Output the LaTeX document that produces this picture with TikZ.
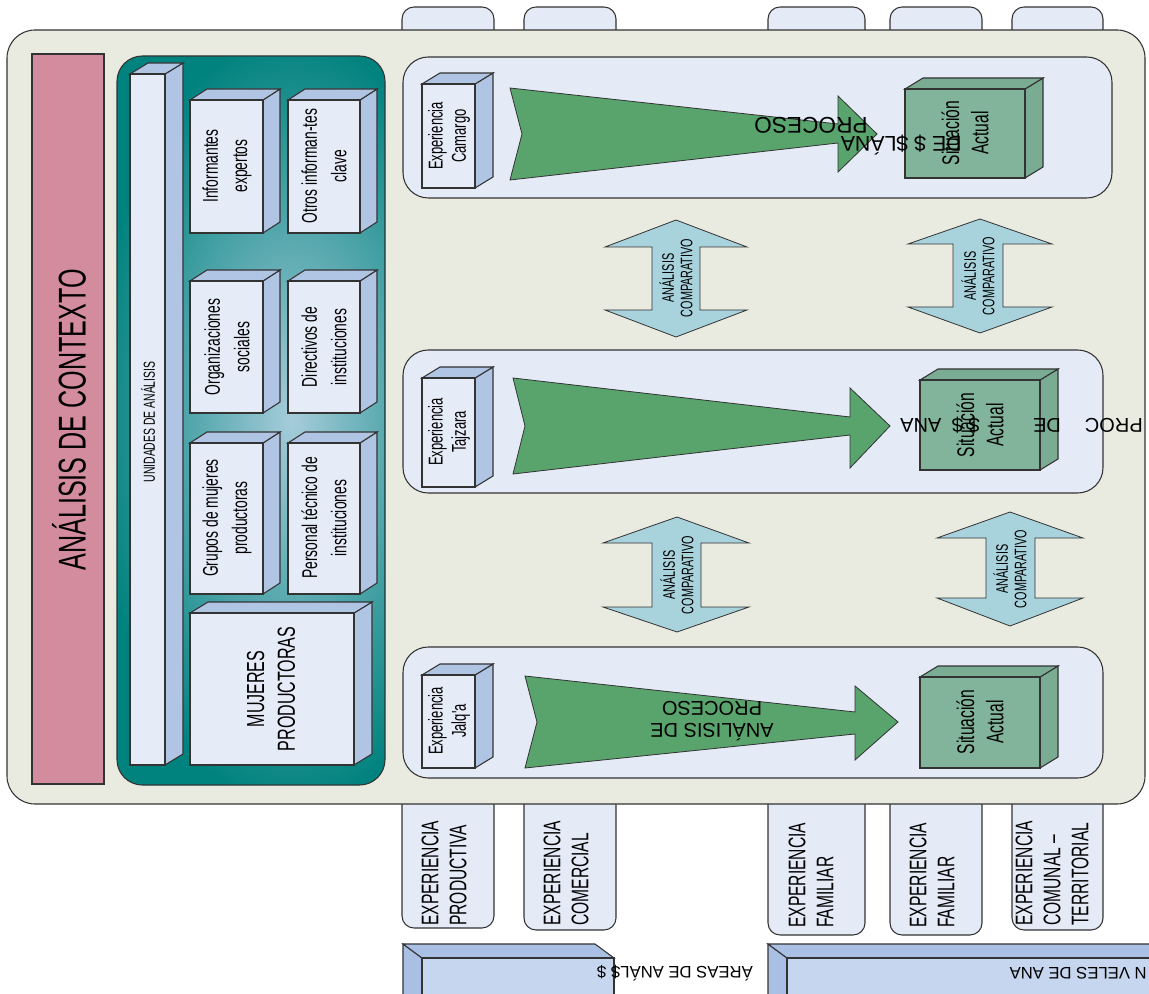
\documentclass[tikz,border=0pt]{standalone}
\usepackage{fontspec}
\setmainfont{Liberation Sans}
\newfontfamily\cnd{Liberation Sans}[FakeStretch=0.65]
\definecolor{edge}{HTML}{333333}
\definecolor{beige}{HTML}{EAEBE0}
\definecolor{tabc}{HTML}{E4EAF6}
\definecolor{pinkc}{HTML}{D28C9E}
\definecolor{tealc}{HTML}{00827E}
\definecolor{teall}{HTML}{A6CCDA}
\definecolor{frontc}{HTML}{E6ECF7}
\definecolor{sidec}{HTML}{B0C4E3}
\definecolor{greena}{HTML}{58A46C}
\definecolor{greenb}{HTML}{82B49C}
\definecolor{greens}{HTML}{79AC92}
\definecolor{cmpc}{HTML}{A8D2DC}
\definecolor{barf}{HTML}{C6D6EF}
\definecolor{bars}{HTML}{A9C0E4}
\tikzset{
  bd/.style={draw=edge, line width=0.8pt},
  txt/.style={inner sep=0pt, align=center, text=black},
  rtxt/.style={txt, rotate=90},
  tabshape/.style={bd, fill=tabc, rounded corners=9pt},
  panel/.style={bd, fill=tabc, rounded corners=19pt},
  garrow/.style={bd, fill=greena, line width=0.6pt},
  carrow/.style={bd, fill=cmpc, line width=0.6pt},
}
\newcommand\cuboid[8]{%
 \filldraw[bd,fill=#8] (#3,#2) -- (#3+#5,#2-#6) -- (#3+#5,#4-#6) -- (#3,#4) -- cycle;
 \filldraw[bd,fill=#8] (#1,#2) -- (#1+#5,#2-#6) -- (#3+#5,#2-#6) -- (#3,#2) -- cycle;
 \filldraw[bd,fill=#7] (#1,#2) rectangle (#3,#4);}
\newcommand\dblarrow[9]{% cx ytop yb1 yb2 ybot xl xr sl sr
 \filldraw[carrow] (#1,#2) -- (#7,#3) -- (#9,#3) -- (#9,#4) -- (#7,#4) -- (#1,#5) -- (#6,#4) -- (#8,#4) -- (#8,#3) -- (#6,#3) -- cycle;}
\begin{document}
\begin{tikzpicture}[x=0.75pt,y=-0.75pt]
\useasboundingbox (0,0) rectangle (1149,994);
\clip (0,0) rectangle (1149,994);
\fill[white] (0,0) rectangle (1149,994);
% top tabs
\foreach \a/\b in {402/494,524/616,768/865,890/982,1012/1103}
  \filldraw[tabshape] (\a,40) -- (\a,7) -- (\b,7) -- (\b,40);
% bottom tabs
\foreach \a/\b/\c in {402/494/928,524/616/930,768/865/935,890/982/935,1012/1103/930}
  \filldraw[tabshape] (\a,795) -- (\a,\c) -- (\b,\c) -- (\b,795);
% outer box
\filldraw[bd, fill=beige, rounded corners=21pt] (7,30) rectangle (1145,804);
% pink bar
\filldraw[bd, fill=pinkc] (32,54) rectangle (104,784);
\node[rtxt, font=\cnd\fontsize{29}{32}\selectfont] (ctx) at (69,420) {ANÁLISIS DE CONTEXTO};
% teal box
\filldraw[bd, fill=tealc, rounded corners=19pt] (117,56) rectangle (385,785);
\begin{scope}
  \clip[rounded corners=19pt] (118,57) rectangle (384,784);
  \shade[inner color=teall, outer color=tealc] (292,420) ellipse [x radius=150pt, y radius=290pt];
\end{scope}
% unidades bar
\cuboid{130}{74}{165}{765}{18}{11}{frontc}{sidec}
\node[rtxt, font=\cnd\fontsize{12}{14}\selectfont] (unid) at (148,422) {UNIDADES DE ANÁLISIS};
% small boxes
\cuboid{190}{100}{263}{233}{17}{11}{frontc}{sidec}
\cuboid{288}{100}{360}{233}{17}{11}{frontc}{sidec}
\cuboid{190}{281}{263}{413}{17}{11}{frontc}{sidec}
\cuboid{288}{281}{360}{413}{17}{11}{frontc}{sidec}
\cuboid{190}{443}{263}{594}{17}{11}{frontc}{sidec}
\cuboid{288}{443}{360}{594}{17}{11}{frontc}{sidec}
\cuboid{190}{613}{354}{765}{18}{11}{frontc}{sidec}
\tikzset{bx/.style={rtxt, font=\cnd\fontsize{16}{22}\selectfont}}
\node[bx] (inf) at (227,166) {Informantes\\expertos};
\node[bx] (otr) at (324,166) {Otros informan-tes\\clave};
\node[bx] (org) at (227,347) {Organizaciones\\sociales};
\node[bx] (dir) at (324,347) {Directivos de\\instituciones};
\node[bx] (grp) at (227,518) {Grupos de mujeres\\productoras};
\node[bx] (per) at (324,518) {Personal técnico de\\instituciones};
\node[rtxt, font=\cnd\fontsize{18.5}{23}\selectfont] (muj) at (271,689) {MUJERES\\PRODUCTORAS};
% panels
\filldraw[panel] (403,57) rectangle (1112,198);
\filldraw[panel] (403,350) rectangle (1103,493);
\filldraw[panel] (403,647) rectangle (1103,778);
% experiencia boxes
\cuboid{422}{84}{475}{188}{18}{11}{frontc}{sidec}
\cuboid{422}{378}{475}{487}{18}{11}{frontc}{sidec}
\cuboid{422}{675}{475}{768}{18}{11}{frontc}{sidec}
\tikzset{ex/.style={rtxt, font=\cnd\fontsize{15}{17.5}\selectfont}}
\node[ex] (e1) at (449,136) {Experiencia\\Camargo};
\node[ex] (e2) at (449,432) {Experiencia\\Tajzara};
\node[ex] (e3) at (449,721) {Experiencia\\Jalq'a};
% green arrows
\filldraw[garrow] (510,88) -- (838,124) -- (838,96) -- (877,134) -- (838,172) -- (838,143) -- (510,180) -- (522,134) -- cycle;
\filldraw[garrow] (513,378) -- (850,417) -- (850,388) -- (890,426) -- (850,468) -- (850,435) -- (513,474) -- (525,426) -- cycle;
\filldraw[garrow] (525,676) -- (855,712) -- (855,686) -- (898,722) -- (855,760) -- (855,734) -- (525,768) -- (537,722) -- cycle;
% situacion boxes
\cuboid{905}{89}{1025}{178}{18}{11}{greenb}{greens}
\cuboid{920}{380}{1040}{470}{18}{11}{greenb}{greens}
\cuboid{920}{677}{1040}{768}{18}{11}{greenb}{greens}
\tikzset{sit/.style={rtxt, font=\cnd\fontsize{18}{22}\selectfont}}
\node[sit] (s1) at (965,133) {Situación\\Actual};
\node[sit] (s2) at (980,425) {Situación\\Actual};
\node[sit] (s3) at (980,722) {Situación\\Actual};
% garbled arrow texts (printed upside down)
\tikzset{gtxt/.style={txt, rotate=180, font=\fontsize{15}{17}\selectfont}}
\node[gtxt] (g3) at (712,721) {ANÁLISIS DE\\PROCESO};
\node[gtxt, font=\fontsize{17}{19}\selectfont] (g1a) at (811,125) {PROCESO};
\node[gtxt, font=\fontsize{16}{19}\selectfont, anchor=west] (g1b) at (962,145) {DE \$ \$LÁNA};
\node[gtxt, font=\fontsize{15}{17}\selectfont, anchor=east] (g2) at (900,425) {PROC\hspace{18pt}DE\hspace{40pt}\$ \$\hspace{8pt}ANA};
% comparative arrows
\dblarrow{676}{220}{247}{310}{337}{605}{747}{652}{700}
\dblarrow{980}{219}{244}{307}{333}{908}{1052}{953}{1003}
\dblarrow{677}{517}{543}{607}{632}{603}{749}{652}{701}
\dblarrow{1010}{512}{538}{598}{626}{937}{1083}{986}{1035}
\tikzset{cmp/.style={rtxt, font=\cnd\fontsize{12.5}{14}\selectfont}}
\node[cmp] (c1) at (676,278) {ANÁLISIS\\COMPARATIVO};
\node[cmp] (c2) at (978,276) {ANÁLISIS\\COMPARATIVO};
\node[cmp] (c3) at (677,575) {ANÁLISIS\\COMPARATIVO};
\node[cmp] (c4) at (1010,569) {ANÁLISIS\\COMPARATIVO};
% bottom tab texts
\tikzset{tb/.style={txt, rotate=90, anchor=west, align=left, font=\cnd\fontsize{18}{21}\selectfont}}
\node[tb] (t1) at (444,926) {EXPERIENCIA\\PRODUCTIVA};
\node[tb] (t2) at (566,926) {EXPERIENCIA\\COMERCIAL};
\node[tb] (t3) at (811,928) {EXPERIENCIA\\FAMILIAR};
\node[tb] (t4) at (932,928) {EXPERIENCIA\\FAMILIAR};
\node[tb] (t5) at (1052,926) {EXPERIENCIA\\COMUNAL –\\TERRITORIAL};
% bottom bars
\filldraw[bd, fill=bars] (403,944) -- (422,958) -- (422,1000) -- (403,1000) -- cycle;
\filldraw[bd, fill=bars] (403,944) -- (595,944) -- (614,958) -- (422,958) -- cycle;
\filldraw[bd, fill=barf] (422,958) rectangle (614,1000);
\filldraw[bd, fill=bars] (768,944) -- (787,958) -- (787,1000) -- (768,1000) -- cycle;
\filldraw[bd, fill=bars] (768,944) -- (1160,944) -- (1160,958) -- (787,958) -- cycle;
\filldraw[bd, fill=barf] (787,958) rectangle (1160,1000);
\tikzset{btx/.style={txt, rotate=180, font=\fontsize{12.5}{14}\selectfont}}
\node[btx] (b1) at (675,973) {ÁREAS DE ANÁL\$ \$};
\node[btx, anchor=west] (b2) at (1147,973) {N VELES DE ANA};
\end{tikzpicture}
\end{document}
